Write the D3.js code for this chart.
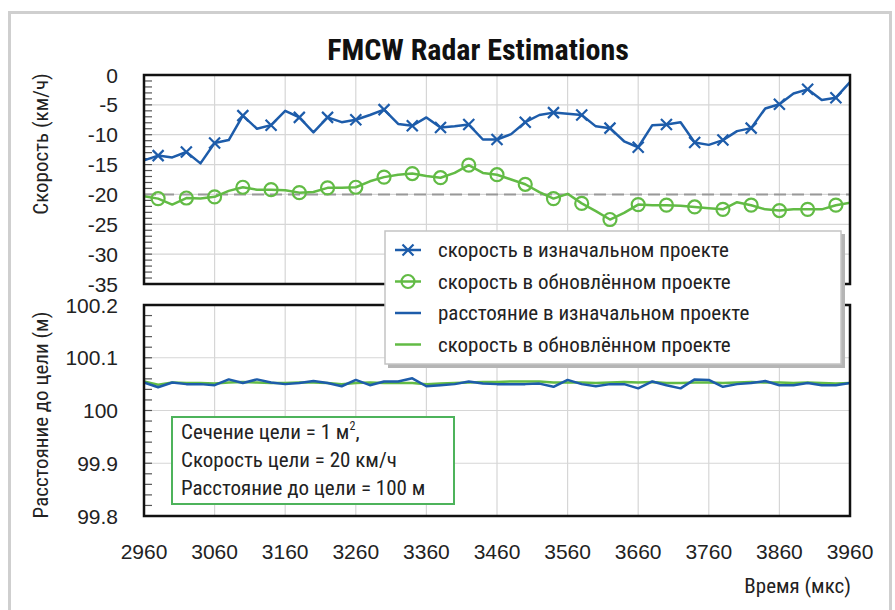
<!DOCTYPE html>
<html>
<head>
<meta charset="utf-8">
<script src="https://cdn.jsdelivr.net/npm/d3@7"></script>
<style>
	body { margin: 0; background: #fff; }
	svg { display: block; }
</style>
</head>
<body>
<div id="chart"></div>
<script>

// sample times (мкс)
var times = [2960, 2980, 3000, 3020, 3040, 3060, 3080, 3100, 3120, 3140,
	3160, 3180, 3200, 3220, 3240, 3260, 3280, 3300, 3320, 3340,
	3360, 3380, 3400, 3420, 3440, 3460, 3480, 3500, 3520, 3540,
	3560, 3580, 3600, 3620, 3640, 3660, 3680, 3700, 3720, 3740,
	3760, 3780, 3800, 3820, 3840, 3860, 3880, 3900, 3920, 3940, 3960];

// speed, original design (км/ч)
var speedOriginal = [-14.3, -13.5, -13.8, -12.9, -14.8, -11.4, -10.9, -6.8, -9.0, -8.4,
	-6.0, -7.1, -9.6, -7.1, -7.9, -7.5, -6.7, -5.8, -8.2, -8.5,
	-7.1, -8.8, -8.6, -8.3, -10.8, -10.8, -9.9, -7.9, -6.7, -6.3,
	-6.5, -6.7, -8.6, -8.9, -11.1, -12.1, -8.4, -8.3, -7.9, -11.3,
	-11.7, -10.9, -9.4, -8.9, -5.6, -4.9, -3.1, -2.4, -4.2, -3.8, -1.2];

// speed, updated design (км/ч)
var speedUpdated = [-20.3, -20.7, -21.7, -20.6, -20.7, -20.4, -19.4, -18.8, -19.2, -19.2,
	-19.3, -19.7, -19.6, -18.9, -18.9, -18.8, -17.8, -17.1, -16.7, -16.5,
	-16.9, -17.2, -16.4, -15.1, -16.4, -16.7, -17.5, -18.3, -19.6, -20.7,
	-19.9, -21.5, -22.8, -24.2, -23.1, -21.7, -21.8, -21.8, -21.9, -22.1,
	-22.3, -22.5, -21.3, -21.8, -22.5, -22.7, -22.5, -22.5, -22.5, -21.8, -21.4];

// range, original design (м)
var rangeOriginal = [100.053, 100.044, 100.053, 100.050, 100.050, 100.048, 100.059, 100.052, 100.059, 100.053,
	100.050, 100.052, 100.056, 100.052, 100.046, 100.058, 100.048, 100.055, 100.055, 100.061,
	100.046, 100.048, 100.050, 100.055, 100.051, 100.050, 100.050, 100.050, 100.051, 100.045,
	100.058, 100.050, 100.046, 100.050, 100.050, 100.042, 100.055, 100.048, 100.042, 100.059,
	100.058, 100.045, 100.050, 100.052, 100.056, 100.048, 100.048, 100.052, 100.048, 100.048, 100.052];

// range, updated design (м)
var rangeUpdated = [100.055, 100.049, 100.053, 100.052, 100.052, 100.051, 100.053, 100.054, 100.053, 100.052,
	100.052, 100.053, 100.053, 100.052, 100.050, 100.052, 100.053, 100.052, 100.052, 100.052,
	100.050, 100.051, 100.052, 100.053, 100.054, 100.054, 100.055, 100.055, 100.055, 100.053,
	100.053, 100.053, 100.052, 100.053, 100.054, 100.053, 100.054, 100.052, 100.052, 100.053,
	100.053, 100.052, 100.053, 100.054, 100.053, 100.053, 100.052, 100.053, 100.052, 100.051, 100.052];

var xTicks = [2960, 3060, 3160, 3260, 3360, 3460, 3560, 3660, 3760, 3860, 3960];
var speedTicks = [0, -5, -10, -15, -20, -25, -30, -35];
var rangeTicks = [100.2, 100.1, 100, 99.9, 99.8];
var targetSpeed = -20;

var legendLabels = [
	"скорость в изначальном проекте",
	"скорость в обновлённом проекте",
	"расстояние в изначальном проекте",
	"скорость в обновлённом проекте"
];

var noteLines = ["Сечение цели = 1 м", "Скорость цели = 20 км/ч", "Расстояние до цели = 100 м"];

var dimensions = {
	width: 895,
	height: 610,
	plotLeft: 144,
	plotRight: 850,
	top: { y0: 75, y1: 284 },
	bottom: { y0: 305, y1: 516 }
};

var colors = {
	blue: "#1d5caa",
	green: "#62bb45",
	grid: "#d6d6d6",
	text: "#222"
};

var narrow = "'Liberation Sans Narrow', 'Roboto Condensed', 'DejaVu Sans Condensed', sans-serif";
var regular = "'Liberation Sans', Arial, sans-serif";

var svg = d3.select("#chart")
	.append("svg")
	.attr("width", dimensions.width)
	.attr("height", dimensions.height);

// outer frame
svg.append("rect")
	.attr("x", 9.5).attr("y", 12.5)
	.attr("width", 881).attr("height", 620)
	.attr("fill", "none")
	.attr("stroke", "#cfcfcf")
	.attr("stroke-width", 3);

var x = d3.scaleLinear()
	.domain([2960, 3960])
	.range([dimensions.plotLeft, dimensions.plotRight]);

var ySpeed = d3.scaleLinear()
	.domain([-35, 0])
	.range([dimensions.top.y1, dimensions.top.y0]);

var yRange = d3.scaleLinear()
	.domain([99.8, 100.2])
	.range([dimensions.bottom.y1, dimensions.bottom.y0]);

// draws grid, minor ticks and frame of one panel
function drawPanel(y, panel, majors, minorStep) {
	var g = svg.append("g");

	g.selectAll("line.vgrid")
		.data(xTicks.slice(1, -1))
		.enter().append("line")
		.attr("x1", function(d) { return x(d); })
		.attr("x2", function(d) { return x(d); })
		.attr("y1", panel.y0).attr("y2", panel.y1)
		.attr("stroke", colors.grid).attr("stroke-width", 1.2);

	g.selectAll("line.hgrid")
		.data(majors)
		.enter().append("line")
		.attr("x1", dimensions.plotLeft).attr("x2", dimensions.plotRight)
		.attr("y1", function(d) { return y(d); })
		.attr("y2", function(d) { return y(d); })
		.attr("stroke", colors.grid).attr("stroke-width", 1.2);

	var dom = y.domain();
	var n = Math.round((dom[1] - dom[0]) / minorStep);
	var minors = d3.range(1, n).map(function(i) { return dom[0] + i * minorStep; });
	g.selectAll("line.minor")
		.data(minors)
		.enter().append("line")
		.attr("x1", dimensions.plotLeft).attr("x2", dimensions.plotLeft + 8)
		.attr("y1", function(d) { return y(d); })
		.attr("y2", function(d) { return y(d); })
		.attr("stroke", "#555").attr("stroke-width", 1.2);

	// tick labels
	g.selectAll("text.ytick")
		.data(majors)
		.enter().append("text")
		.attr("x", 118)
		.attr("y", function(d) { return y(d); })
		.attr("dy", "0.36em")
		.attr("text-anchor", "end")
		.attr("font-family", regular)
		.attr("font-size", 21)
		.attr("fill", colors.text)
		.text(function(d) { return d; });

	return g;
}

function drawFrame(panel) {
	svg.append("rect")
		.attr("x", dimensions.plotLeft).attr("y", panel.y0)
		.attr("width", dimensions.plotRight - dimensions.plotLeft)
		.attr("height", panel.y1 - panel.y0)
		.attr("fill", "none")
		.attr("stroke", "#111")
		.attr("stroke-width", 2.5);
}

drawPanel(ySpeed, dimensions.top, speedTicks, 1);
drawPanel(yRange, dimensions.bottom, rangeTicks, 0.02);

// target speed reference
svg.append("line")
	.attr("x1", dimensions.plotLeft).attr("x2", dimensions.plotRight)
	.attr("y1", ySpeed(targetSpeed)).attr("y2", ySpeed(targetSpeed))
	.attr("stroke", "#999").attr("stroke-width", 2)
	.attr("stroke-dasharray", "12,6");

function lineFor(y, values) {
	return d3.line()
		.x(function(d, i) { return x(times[i]); })
		.y(function(d) { return y(d); })(values);
}

// speed lines
svg.append("path")
	.attr("d", lineFor(ySpeed, speedOriginal))
	.attr("fill", "none").attr("stroke", colors.blue).attr("stroke-width", 2.5)
	.attr("stroke-linejoin", "round");

svg.append("path")
	.attr("d", lineFor(ySpeed, speedUpdated))
	.attr("fill", "none").attr("stroke", colors.green).attr("stroke-width", 2.5)
	.attr("stroke-linejoin", "round");

// markers on every second sample
var markerIdx = d3.range(1, times.length, 2);

function cross(sel, r) {
	sel.append("path")
		.attr("d", "M" + (-r) + "," + (-r) + "L" + r + "," + r + "M" + (-r) + "," + r + "L" + r + "," + (-r))
		.attr("stroke", colors.blue).attr("stroke-width", 2.2).attr("fill", "none");
}

svg.selectAll("g.xmark")
	.data(markerIdx)
	.enter().append("g")
	.attr("transform", function(i) { return "translate(" + x(times[i]) + "," + ySpeed(speedOriginal[i]) + ")"; })
	.call(cross, 5.5);

svg.selectAll("circle.omark")
	.data(markerIdx)
	.enter().append("circle")
	.attr("cx", function(i) { return x(times[i]); })
	.attr("cy", function(i) { return ySpeed(speedUpdated[i]); })
	.attr("r", 6.5)
	.attr("fill", "none")
	.attr("stroke", colors.green).attr("stroke-width", 2.2);

// range lines
svg.append("path")
	.attr("d", lineFor(yRange, rangeUpdated))
	.attr("fill", "none").attr("stroke", colors.green).attr("stroke-width", 2.5);

svg.append("path")
	.attr("d", lineFor(yRange, rangeOriginal))
	.attr("fill", "none").attr("stroke", colors.blue).attr("stroke-width", 2.5)
	.attr("stroke-linejoin", "round");

drawFrame(dimensions.top);
drawFrame(dimensions.bottom);

// x tick labels
svg.selectAll("text.xtick")
	.data(xTicks)
	.enter().append("text")
	.attr("x", function(d) { return x(d); })
	.attr("y", 559)
	.attr("text-anchor", "middle")
	.attr("font-family", regular)
	.attr("font-size", 21)
	.attr("fill", colors.text)
	.text(function(d) { return d; });

// titles
svg.append("text")
	.attr("x", 478).attr("y", 60)
	.attr("text-anchor", "middle")
	.attr("font-family", narrow)
	.attr("font-weight", "bold")
	.attr("font-size", 30)
	.attr("fill", "#111")
	.text("FMCW Radar Estimations");

svg.append("text")
	.attr("x", 851).attr("y", 593)
	.attr("text-anchor", "end")
	.attr("font-family", narrow)
	.attr("font-size", 21)
	.attr("fill", colors.text)
	.text("Время (мкс)");

svg.append("text")
	.attr("transform", "translate(48,144) rotate(-90)")
	.attr("text-anchor", "middle")
	.attr("font-family", narrow)
	.attr("font-size", 21)
	.attr("fill", colors.text)
	.text("Скорость (км/ч)");

svg.append("text")
	.attr("transform", "translate(48,415) rotate(-90)")
	.attr("text-anchor", "middle")
	.attr("font-family", narrow)
	.attr("font-size", 21)
	.attr("fill", colors.text)
	.text("Расстояние до цели (м)");

// legend
var legend = svg.append("g").attr("transform", "translate(385,231)");

legend.append("rect")
	.attr("x", 3).attr("y", 3)
	.attr("width", 457).attr("height", 134)
	.attr("fill", "#b5b5b5");

legend.append("rect")
	.attr("width", 456).attr("height", 133)
	.attr("fill", "#fff")
	.attr("stroke", "#c4c4c4").attr("stroke-width", 1.5);

var rows = legend.selectAll("g.row")
	.data(legendLabels)
	.enter().append("g")
	.attr("transform", function(d, i) { return "translate(0," + (19 + i * 31.5) + ")"; });

rows.append("line")
	.attr("x1", 10).attr("x2", 36)
	.attr("stroke", function(d, i) { return i % 2 === 0 ? colors.blue : colors.green; })
	.attr("stroke-width", 2.5);

rows.filter(function(d, i) { return i === 0; })
	.append("g").attr("transform", "translate(23,0)")
	.call(cross, 5.5);

rows.filter(function(d, i) { return i === 1; })
	.append("circle")
	.attr("cx", 23).attr("r", 6.5)
	.attr("fill", "none")
	.attr("stroke", colors.green).attr("stroke-width", 2.2);

rows.append("text")
	.attr("x", 53).attr("dy", "0.35em")
	.attr("font-family", narrow)
	.attr("font-size", 21)
	.attr("fill", colors.text)
	.text(function(d) { return d; });

// annotation box
var note = svg.append("g").attr("transform", "translate(172,417)");

note.append("rect")
	.attr("width", 282).attr("height", 87)
	.attr("fill", "#fff")
	.attr("stroke", "#4db35b").attr("stroke-width", 2);

var noteText = note.selectAll("text")
	.data(noteLines)
	.enter().append("text")
	.attr("x", 9)
	.attr("y", function(d, i) { return 22 + i * 28; })
	.attr("font-family", narrow)
	.attr("font-size", 21)
	.attr("fill", colors.text)
	.text(function(d) { return d; });

// м² with a superscript
var first = noteText.filter(function(d, i) { return i === 0; });
first.append("tspan").attr("font-size", 12).attr("dy", -9).text("2");
first.append("tspan").attr("dy", 9).text(",");

</script>
</body>
</html>
